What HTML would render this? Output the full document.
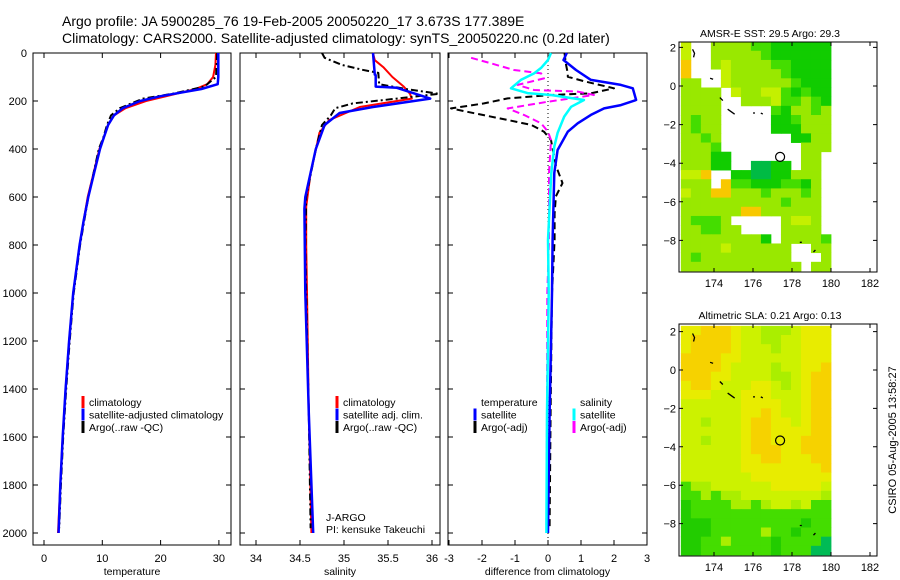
<!DOCTYPE html>
<html><head><meta charset="utf-8"><style>
html,body{margin:0;padding:0;background:#fff;}
svg{display:block;font-family:"Liberation Sans",sans-serif;}
</style></head><body>
<svg id="c" width="900" height="580" viewBox="0 0 900 580">
<text x="62" y="26" font-size="14">Argo profile: JA 5900285_76 19-Feb-2005 20050220_17 3.673S 177.389E</text>
<text x="62" y="43" font-size="14">Climatology: CARS2000. Satellite-adjusted climatology: synTS_20050220.nc (0.2d later)</text>
</svg>
<script>
// ---------- data ----------
const depthTicks=[0,200,400,600,800,1000,1200,1400,1600,1800,2000];
const tempTicks=[0,10,20,30];
const salTicks=[34,34.5,35,35.5,36];
const salTickLabels=["34","34.5","35","35.5","36"];
const diffTicks=[-3,-2,-1,0,1,2,3];
const lonTicks=[174,176,178,180,182];
const latTicks=[2,0,-2,-4,-6,-8];

const tClimD=[0,50,100,130,150,180,200,230,260,300,350,400,500,600,700,800,1000,1200,1400,1600,1800,2000];
const tClimV=[29.5,29.4,29.0,28,26,21,17.5,14,12,11,10.3,9.5,8.5,7.5,6.8,6.1,5.0,4.3,3.7,3.2,2.8,2.4];
const tSatD=[0,100,130,150,180,200,230,260,300,350,400,500,600,700,800,1000,1200,1400,1600,1800,2000];
const tSatV=[29.9,29.9,29.8,27,20,16.5,13.5,12,11,10.3,9.6,8.6,7.6,6.8,6.1,5.0,4.3,3.7,3.2,2.8,2.5];
const tArgoD=[0,50,100,140,170,190,210,230,260,300,350,400,500,600,700,800,1000,1200,1400,1600,1800,1980];
const tArgoV=[29.7,29.6,29.5,27.5,22,17,15,13,11.5,10.8,10.2,9.4,8.5,7.6,6.9,6.2,5.1,4.4,3.8,3.3,2.9,2.6];

const sClimD=[0,30,60,100,140,170,190,225,280,333,404,500,640,800,1000,1500,2000];
const sClimV=[35.33,35.35,35.45,35.55,35.68,35.75,35.77,35.18,34.83,34.72,34.68,34.62,34.57,34.57,34.58,34.6,34.63];
const sSatD=[0,90,92,140,145,190,225,250,300,400,600,650,1000,1500,2000];
const sSatV=[35.33,35.35,35.36,35.36,35.6,35.98,35.33,34.95,34.78,34.68,34.56,34.55,34.56,34.6,34.65];
const sArgoD=[0,20,50,70,83,130,150,170,190,210,230,260,300,400,600,800,1000,1500,1980];
const sArgoV=[34.75,34.78,34.98,35.21,35.39,35.4,35.7,36.08,35.6,35.1,34.9,34.85,34.75,34.68,34.57,34.56,34.57,34.6,34.62];

const dTSatD=[0,29,71,112,133,147,196,217,231,258,293,328,404,500,779,1000,1500,2000];
const dTSatV=[0.57,0.47,0.85,1.3,2.21,2.57,2.67,2.21,1.7,1.3,0.9,0.6,0.29,0.19,0.14,0.12,0.05,0.0];
const dSSatD=[0,29,62,85,112,147,167,175,196,224,265,333,390,500,779,1000,1500,2000];
const dSSatV=[0.09,0,-0.21,-0.42,-0.82,-1.12,-0.62,0.09,1.09,0.7,0.49,0.29,0.19,0.1,0,0.02,-0.03,-0.05];
const dTArgoD=[0,50,85,99,118,147,168,175,189,210,231,251,279,300,328,363,469,542,597,669,779,1000,1500,1980];
const dTArgoV=[0.5,0.55,0.6,0.6,1.1,2.0,1.3,0.1,-1.22,-1.94,-2.94,-2.24,-1.22,-0.5,-0.12,0.09,0.24,0.44,0.24,0.2,0.2,0.12,0.08,0.05];
const dSArgoD=[20,43,71,85,106,133,154,161,175,203,231,258,293,328,363,500,779,1000,1500,1980];
const dSArgoV=[-2.33,-1.73,-1.03,-0.21,-0.12,-0.92,-0.42,0.9,1.39,0,-1.22,-0.73,-0.21,0,0.09,0.03,0.03,-0.02,-0.03,-0.05];

// map grids: lon 172.3..180, lat 2.3..-9.65
const sstRows=[
"y..mmmmGGgggggg","y..mmmmmGgggggg","o..mymmmmGGgggg","o...ymmmmmGgggg","mm..ymmmmmmGggg",
"mmmm.ymmyyGgGgg","mmmm..mmmyGGmGg","mmmm.....GgmmGm","mGmm.....ggGmmm","mGmm.....gggmmm",
"mmGm.......ggmm","mmmG........mmm","mmmgg.......mm.","mmmgg..ttgg.mm.","yyo..ggttggmmm.",
"mmm.oGGgggGGgm.","ymmoommmGmmmGm.","mmmmmmmmmmGmmm.","mmmmmmoommmmmm.","mGGGm.....myym.",
"mmGGmm....mmmm.","mmmmmmmmg.mmmmG","mmmmymmmmmm..mm","mGmmmmmmmmm...m","mmmmmmmmmmmm.mm"];
const slaRows=[
"YYOOOYyymmmyYYY","YOOOOYyymmyyYYY","YOOOOYyyymyyYYY","OOOOYYyyyyyyYYY","OOOOYyyyymyyYYO",
"OOOYYyyyymmyYOO","YOOYyyyYYymyYOO","YYYyyyYYYyyyYOO","yyyyyyYYYYyyYOO","yyyyyyYYOYyyYOO",
"yymyyyYOOYYyYOO","yyyyyyYOOYYYYOO","yymyyyYOOYYYOOO","yyyyyyYOOOYYOOO","yyyyyyYYOOYYYOO",
"yyyyyyYYYYYYYYO","yyyyyyyYYYYYYYY","GmmyyyyyyYYYYYy","GGmGmmyyyyyyyym","gGGGGmmGmyymyGG",
"gGGGGGGGGGGGGGG","gggGGGGGGGGGgGG","gggGGGGGmGGgGGG","ggGGmGGGGgGGGGt","ggGGGGGGGgGGGtt"];
const argoLon=177.389, argoLat=-3.673;

// ---------- helpers ----------
const svg=document.getElementById('c');
const NS='http://www.w3.org/2000/svg';
function mk(tag,attrs,parent){const e=document.createElementNS(NS,tag);for(const k in attrs)e.setAttribute(k,attrs[k]);(parent||svg).appendChild(e);return e;}
const sy=d=>53+d*0.24;
const panels=[
 {x0:33,x1:231,sx:v=>44+v*5.83,ticks:tempTicks,labels:tempTicks.map(String),title:'temperature',name:'temperature'},
 {x0:240,x1:440,sx:v=>256+(v-34)*88,ticks:salTicks,labels:salTickLabels,title:'salinity',name:'salinity'},
 {x0:448,x1:647,sx:v=>548+v*33,ticks:diffTicks,labels:diffTicks.map(String),title:'difference from climatology',name:'difference'}
];
const TOP=53,BOT=545;
panels.forEach((p,i)=>{
 const g=mk('g',{});
 
 
 const r=mk('rect',{x:p.x0,y:TOP,width:p.x1-p.x0,height:BOT-TOP,fill:'none',stroke:'#000','stroke-width':1},g);
 
 
 depthTicks.forEach(d=>{
  const y=sy(d);
  const t1=mk('path',{d:`M${p.x0},${y}h5M${p.x1},${y}h-5`,stroke:'#000'},g);
  
  
  if(i===0){
   const tl=mk('text',{x:27,y:y+4,'font-size':11,'text-anchor':'end'},g);
   tl.textContent=String(d);
   
   
  }
 });
 p.ticks.forEach((v,j)=>{
  const x=p.sx(v);
  const t=mk('path',{d:`M${x},${TOP}v5M${x},${BOT}v-5`,stroke:'#000'},g);
  
  
  const tl=mk('text',{x:x,y:562,'font-size':11,'text-anchor':'middle'},g);
  tl.textContent=p.labels[j];
  
  
 });
 const tt=mk('text',{x:(p.x0+p.x1)/2,y:575,'font-size':10.5,'text-anchor':'middle'},g);
 tt.textContent=p.title;
 
 
 p.g=g;
});
function line(p,D,V,color,w,dash,name){
 const pts=D.map((d,k)=>p.sx(V[k]).toFixed(1)+','+sy(d).toFixed(1)).join(' ');
 const a={points:pts,fill:'none',stroke:color,'stroke-width':w,'stroke-linejoin':'round'};
 if(dash)a['stroke-dasharray']=dash;
 const e=mk('polyline',a,p.g);
 
 
}
const zl=mk('line',{x1:panels[2].sx(0),x2:panels[2].sx(0),y1:TOP,y2:BOT,stroke:'#000','stroke-dasharray':'1,3'},panels[2].g);



line(panels[0],tClimD,tClimV,'#f00',2,null,'temperature-climatology-line');
line(panels[0],tArgoD,tArgoV,'#000',2,'7,3,2,3','temperature-argo-line');
line(panels[0],tSatD,tSatV,'#00f',2.5,null,'temperature-satellite-line');
line(panels[1],sClimD,sClimV,'#f00',2,null,'salinity-climatology-line');
line(panels[1],sArgoD,sArgoV,'#000',2,'7,3,2,3','salinity-argo-line');
line(panels[1],sSatD,sSatV,'#00f',2.5,null,'salinity-satellite-line');
line(panels[2],dTArgoD,dTArgoV,'#000',2,'7,4','temp-argo-diff-line');
line(panels[2],dSArgoD,dSArgoV,'#f0f',2,'7,4','salinity-argo-diff-line');
line(panels[2],dTSatD,dTSatV,'#00f',2.5,null,'temp-satellite-diff-line');
line(panels[2],dSSatD,dSSatV,'#0ff',2.5,null,'salinity-satellite-diff-line');

function legend(g,x,y,color,label,name){
 if(color){
  const b=mk('rect',{x:x-1.5,y:y-9,width:3,height:12,fill:color},g);
  
  
 }
 const t=mk('text',{x:x+6,y:y+1,'font-size':10.5},g);
 t.textContent=label;
 
 
}
const L=[405,417.5,430];
legend(panels[0].g,83,L[0],'#f00','climatology','legend-climatology');
legend(panels[0].g,83,L[1],'#00f','satellite-adjusted climatology','legend-satellite-adjusted');
legend(panels[0].g,83,L[2],'#000','Argo(..raw -QC)','legend-argo');
legend(panels[1].g,337,L[0],'#f00','climatology','legend-climatology');
legend(panels[1].g,337,L[1],'#00f','satellite adj. clim.','legend-satellite-adjusted');
legend(panels[1].g,337,L[2],'#000','Argo(..raw -QC)','legend-argo');
legend(panels[2].g,475,L[0],null,'temperature','legend-temperature-heading');
legend(panels[2].g,475,L[1],'#00f','satellite','legend-temp-satellite');
legend(panels[2].g,475,L[2],'#000','Argo(-adj)','legend-temp-argo');
legend(panels[2].g,574,L[0],null,'salinity','legend-salinity-heading');
legend(panels[2].g,574,L[1],'#0ff','satellite','legend-sal-satellite');
legend(panels[2].g,574,L[2],'#f0f','Argo(-adj)','legend-sal-argo');
const ja=mk('text',{x:326,y:521,'font-size':10.5},panels[1].g);ja.textContent='J-ARGO';


const pi=mk('text',{x:326,y:533,'font-size':10.5},panels[1].g);pi.textContent='PI: kensuke Takeuchi';



// ---------- maps ----------
const sstCol={g:'#11cc00',G:'#44dd00',m:'#99e800',y:'#c4f000',Y:'#e4ec00',o:'#f8c800',t:'#00bb44'};
const slaCol={O:'#f6d200',Y:'#e8ec00',y:'#ccf200',m:'#aaee00',G:'#44dd00',g:'#22cc00',t:'#00bb55'};
const LON0=172.3, LON1=180, LATTOP=2.3;
function drawMap(top,bot,lat0y,latPx,rows,cols,title,name){
 const g=mk('g',{});
 
 
 const lx=v=>831-(180-v)*19.5;
 const ly=v=>lat0y-v*latPx;
 const latBot=(lat0y-(bot-1))/latPx;
 const nC=rows[0].length, nR=rows.length;
 const dLon=(LON1-LON0)/nC, dLat=(LATTOP-latBot)/nR;
 const cw=dLon*19.5, ch=dLat*latPx;
 rows.forEach((row,ri)=>{
  for(let ci=0;ci<row.length;ci++){
   const c=cols[row[ci]];
   if(!c)continue;
   const r=mk('rect',{x:lx(LON0+ci*dLon).toFixed(2),y:ly(LATTOP-ri*dLat).toFixed(2),width:(cw+0.4).toFixed(2),height:(ch+0.4).toFixed(2),fill:c},g);
   
   
  }
 });
 const fr=mk('rect',{x:679,y:top,width:198,height:bot-top,fill:'none',stroke:'#000'},g);
 
 
 lonTicks.forEach(v=>{
  const x=lx(v);
  const t=mk('path',{d:`M${x},${top}v4M${x},${bot}v-4`,stroke:'#000'},g);
  
  
  const tl=mk('text',{x:x,y:bot+15,'font-size':11,'text-anchor':'middle'},g);tl.textContent=String(v);
  
  
 });
 latTicks.forEach(v=>{
  const y=ly(v);
  const t=mk('path',{d:`M679,${y}h4M877,${y}h-4`,stroke:'#000'},g);
  
  
  const tl=mk('text',{x:676,y:y+4,'font-size':11,'text-anchor':'end'},g);tl.textContent=v<0?'\u2212'+(-v):String(v);
  
  
 });
 const ci=mk('circle',{cx:lx(argoLon),cy:ly(argoLat),r:4.5,fill:'none',stroke:'#000','stroke-width':1.2},g);
 
 
 const tt=mk('text',{x:770,y:top-5,'font-size':10.5,'text-anchor':'middle'},g);tt.textContent=title;
 
 
 const isl=mk('path',{d:`M${lx(172.9)},${ly(1.9)}l2,4l-1,4M${lx(173.8)},${ly(0.4)}l3,1M${lx(174.3)},${ly(-0.6)}l3,3M${lx(174.7)},${ly(-1.2)}l7,5M${lx(176.0)},${ly(-1.4)}l2,0M${lx(176.4)},${ly(-1.4)}l2,1M${lx(178.4)},${ly(-8.1)}l2,0M${lx(179.1)},${ly(-8.6)}l2,-2`,stroke:'#000','stroke-width':1.3,fill:'none'},g);
 
 
}
drawMap(42,272,86,19.3,sstRows,sstCol,'AMSR-E SST: 29.5 Argo: 29.3','sst-map');
drawMap(324,556,370,19.2,slaRows,slaCol,'Altimetric SLA: 0.21 Argo: 0.13','sla-map');
const cs=mk('text',{x:0,y:0,'font-size':11,'text-anchor':'middle',transform:'translate(896,440) rotate(-90)'});
cs.textContent='CSIRO 05-Aug-2005 13:58:27';


</script>
</body></html>
